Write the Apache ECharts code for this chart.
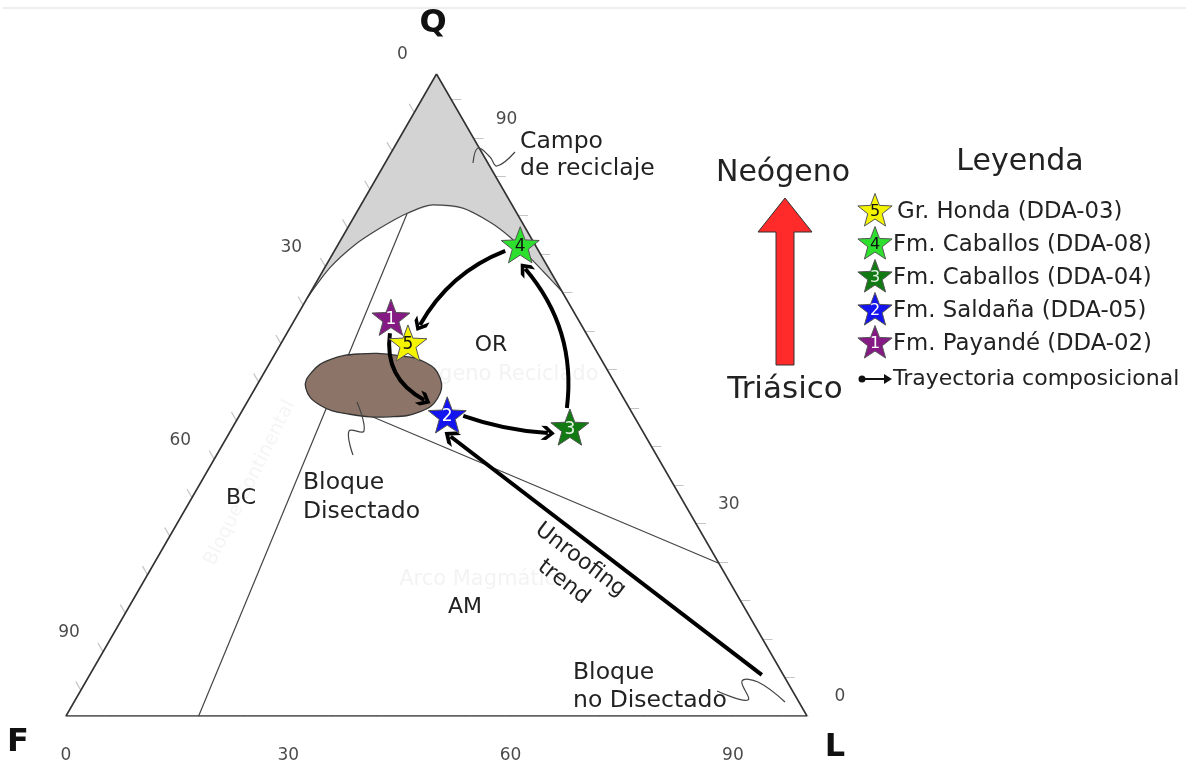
<!DOCTYPE html>
<html>
<head>
<meta charset="utf-8">
<script src="https://cdn.jsdelivr.net/npm/echarts@6/dist/echarts.min.js"></script>
<style>
html,body{margin:0;padding:0;background:#fff}
#chart{width:1186px;height:767px}
</style>
</head>
<body>
<div id="chart"></div>
<script>
// ---- Sample compositions (%), in sample-number order ----
const sampleIds = ['1', '2', '3', '4', '5'];
const sampleNames = ['Fm. Payandé (DDA-02)', 'Fm. Saldaña (DDA-05)', 'Fm. Caballos (DDA-04)', 'Fm. Caballos (DDA-08)', 'Gr. Honda (DDA-03)'];
const sampleQ = [62.1, 46.9, 45.0, 73.4, 58.1];
const sampleF = [25.1, 25.1, 9.5, 2.0, 24.8];
const sampleL = [12.8, 28.0, 45.5, 24.6, 17.1];
const sampleColors = ['#851a85', '#1414f0', '#127a12', '#2ee02e', '#f4f400'];
const sampleTextColors = ['#ffffff', '#ffffff', '#e8f5e8', '#111111', '#111111'];
const legendOrder = [4, 3, 2, 1, 0];

// ---- Compositional trajectory (sample index -> sample index) ----
const pathFrom = [0, 1, 2, 3];
const pathTo = [1, 2, 3, 4];
const pathBend = [-0.35, -0.07, -0.22, -0.18];

// ---- Unroofing trend, [Q, L] start and arrow tip ----
const unroofQ = [6.4, 44.2];
const unroofL = [90.7, 29.05];

// ---- Provenance field boundaries, given as Q and L (%) ----
const recycleQ = [65.1, 69.8, 73.4, 76.0, 78.3, 79.6, 79.1, 76.9, 74.6, 71.8, 69.0, 66.2];
const recycleL = [0.0, 0.7, 2.3, 4.4, 6.9, 9.7, 14.0, 18.8, 22.6, 26.4, 30.1, 33.8];
const cratonLineQ = [78.3, 0];
const cratonLineL = [6.9, 17.9];
const arcLineQ = [49.8, 23.8];
const arcLineL = [9.9, 76.2];
const dissectedQ = [51.1, 53.6, 55.5, 56.4, 56.2, 55.1, 52.6, 49.5, 47.4, 46.6, 47.0, 48.4];
const dissectedL = [6.8, 6.4, 7.9, 11.5, 16.3, 20.9, 24.2, 25.4, 24.1, 20.4, 14.8, 10.1];

// ---- Axis ticks and labelled values per edge ----
const tickStep = 6;
const bottomLabels = [0, 30, 60, 90];   // L
const leftLabels = [0, 30, 60, 90];     // F
const rightLabels = [0, 30, 90];        // Q

// ---- Geometry helpers ----
const SQ3 = Math.sqrt(3) / 2;
const PX = 7.41; // pixels per composition unit on the plot grid
function toXY(q, l) { return [l + q / 2, q * SQ3]; }
function nudge(p, d) { return [p[0] + d[0] / PX, p[1] - d[1] / PX]; }
function shrink(a, b, gapA, gapB) {
  const dx = b[0] - a[0], dy = b[1] - a[1], d = Math.hypot(dx, dy);
  const ux = dx / d, uy = dy / d;
  return [[a[0] + ux * gapA / PX, a[1] + uy * gapA / PX],
          [b[0] - ux * gapB / PX, b[1] - uy * gapB / PX]];
}
function starPoints(cx, cy, R, ratio) {
  const pts = [];
  for (let i = 0; i < 10; i++) {
    const r = i % 2 ? R * ratio : R;
    const a = -Math.PI / 2 + i * Math.PI / 5;
    pts.push([cx + r * Math.cos(a), cy + r * Math.sin(a)]);
  }
  return pts;
}
const STAR = 'path://M50,0 L62.34,33.01 L97.55,34.55 L69.97,56.49 L79.39,90.45 L50,71 L20.61,90.45 L30.03,56.49 L2.45,34.55 L37.66,33.01 Z';
const CHEVRON = 'path://M0,0 L10,12 L10,20 L0,8 L-10,20 L-10,12 Z';
const FONT = 'DejaVu Sans';
// where each trajectory leaves / meets the star outline (screen px from star centre)
const pathStartNudge = [[-1, 16], [16, 1], [-3, -19], [-15, 6]];
const pathEndNudge = [[-23, -15], [-22, 6], [5, 24], [12, -18]];

function polygonSeries(qs, ls, style, z) {
  return {
    type: 'custom', coordinateSystem: 'cartesian2d', silent: true, clip: false, z: z,
    data: [[0, 0]],
    renderItem(params, api) {
      const pts = qs.map((q, i) => api.coord(toXY(q, ls[i])));
      return { type: 'polygon', shape: { points: pts, smooth: style.smooth || 0 }, style: style.s };
    }
  };
}
function lineSeries(qs, ls, width, color, smooth, z) {
  return {
    type: 'line', silent: true, symbol: 'none', smooth: smooth, z: z,
    data: qs.map((q, i) => toXY(q, ls[i])),
    lineStyle: { color: color, width: width }
  };
}

// ---- Axis ticks and their labels ----
const tickLen = 10 / PX;
const ticks = [];
for (let v = 0; v < 100; v += tickStep) {
  const b = toXY(0, v);              // bottom edge: L
  ticks.push({ coords: [b, [b[0] - 0.5 * tickLen, b[1] - SQ3 * tickLen]] });
  const lft = toXY(100 - v, 0);      // left edge: F
  ticks.push({ coords: [lft, [lft[0] - 0.5 * tickLen, lft[1] + SQ3 * tickLen]] });
  const r = toXY(v, 100 - v);        // right edge: Q
  ticks.push({ coords: [r, [r[0] + tickLen, r[1]]] });
}
const tickLabelData = [];
bottomLabels.forEach((v) => tickLabelData.push({ name: String(v), value: toXY(0, v), label: { offset: [0, 40] } }));
leftLabels.forEach((v) => tickLabelData.push({ name: String(v), value: toXY(100 - v, 0), label: { offset: [-34, -19] } }));
rightLabels.forEach((v) => tickLabelData.push({ name: String(v), value: toXY(v, 100 - v), label: { offset: [33, -19] } }));

// ---- Trajectory arrows ----
const pathData = pathFrom.map((f, i) => {
  const t = pathTo[i];
  const a = nudge(toXY(sampleQ[f], sampleL[f]), pathStartNudge[i]);
  const b = nudge(toXY(sampleQ[t], sampleL[t]), pathEndNudge[i]);
  return { coords: [a, b], lineStyle: { curveness: pathBend[i] } };
});
const uStart = toXY(unroofQ[0], unroofL[0]);
const uTip = toXY(unroofQ[1], unroofL[1]);
const unroofData = [{ coords: shrink(uStart, uTip, 0, 7) }];

// ---- Sample stars ----
const starData = sampleIds.map((id, i) => ({
  name: id,
  value: toXY(sampleQ[i], sampleL[i]),
  itemStyle: { color: sampleColors[i] },
  label: { color: sampleTextColors[i] }
}));

// ---- Legend and annotations ----
const graphic = [];
graphic.push({ type: 'rect', shape: { x: 3, y: 7, width: 1183, height: 2 }, style: { fill: '#eeeeee' }, silent: true });
function txt(text, x, y, size, opts) {
  opts = opts || {};
  return {
    type: 'text', x: x, y: y, rotation: opts.rotation || 0, silent: true, z: opts.z || 50,
    style: {
      text: text, fontSize: size, fontFamily: FONT, fontWeight: opts.bold ? 'bold' : 'normal',
      fill: opts.color || '#222', textAlign: opts.align || 'left', align: opts.align || 'left',
      textVerticalAlign: 'middle', verticalAlign: 'middle', lineHeight: opts.lh || size * 1.3
    }
  };
}
// faint field names behind the plot
graphic.push(txt('Orógeno Reciclado', 500, 375, 21, { color: '#f3f3f3', align: 'center', z: 1 }));
graphic.push(txt('Arco Magmático', 484, 580, 21, { color: '#f3f3f3', align: 'center', z: 1 }));
graphic.push(txt('Bloque Continental', 250, 483, 19, { color: '#f5f5f5', align: 'center', rotation: 1.11, z: 1 }));
// vertex names
graphic.push(txt('Q', 433, 24, 32, { bold: true, align: 'center', color: '#111' }));
graphic.push(txt('F', 18, 743, 32, { bold: true, align: 'center', color: '#111' }));
graphic.push(txt('L', 835, 748, 32, { bold: true, align: 'center', color: '#111' }));
// field labels
graphic.push(txt('OR', 491, 345, 22, { align: 'center' }));
graphic.push(txt('AM', 465, 607, 22, { align: 'center' }));
graphic.push(txt('BC', 241, 498, 22, { align: 'center' }));
graphic.push(txt('Bloque\nDisectado', 303, 497, 23.5, { lh: 29 }));
graphic.push(txt('Campo\nde reciclaje', 520, 155, 23.5, { lh: 27 }));
graphic.push(txt('Bloque\nno Disectado', 573, 687, 23.5, { lh: 28 }));
graphic.push(txt('Unroofing\ntrend', 572, 571, 22, { align: 'center', rotation: -0.65, lh: 28 }));
// leader squiggles
const squiggle = (pts) => ({ type: 'polyline', silent: true, z: 40, shape: { points: pts, smooth: 0.4 }, style: { stroke: '#444', lineWidth: 1.2, fill: null } });
graphic.push(squiggle([[473, 163], [478, 148], [490, 157], [497, 166], [515, 152]]));
graphic.push(squiggle([[357, 402], [364, 431], [349, 431], [353, 455]]));
graphic.push(squiggle([[717, 691], [748, 700], [742, 681], [758, 682], [785, 702]]));
// age arrow
graphic.push({
  type: 'polygon', silent: true, z: 40,
  shape: { points: [[776, 365], [776, 232], [758, 232], [785, 198], [812, 232], [794, 232], [794, 365]] },
  style: { fill: '#ff2b2b', stroke: '#333', lineWidth: 1 }
});
graphic.push(txt('Neógeno', 783, 173, 30, { align: 'center' }));
graphic.push(txt('Triásico', 785, 390, 31, { align: 'center' }));
graphic.push(txt('Leyenda', 1020, 162, 30, { align: 'center' }));
// legend rows
const rowY = [210, 243, 276, 309, 342];
legendOrder.forEach((si, r) => {
  graphic.push({ type: 'polygon', silent: true, z: 60, shape: { points: starPoints(875, rowY[r] + 1.5, 18, 0.42) },
    style: { fill: sampleColors[si], stroke: '#555', lineWidth: 1 } });
  graphic.push(txt(sampleIds[si], 875, rowY[r] + 2, 16, { align: 'center', color: sampleTextColors[si], z: 61 }));
  graphic.push(txt(sampleNames[si], si === 4 ? 897 : 893, rowY[r] + 2, 22.8, { z: 61 }));
});
graphic.push({ type: 'circle', silent: true, z: 60, shape: { cx: 862, cy: 379, r: 3.5 }, style: { fill: '#111' } });
graphic.push({ type: 'line', silent: true, z: 60, shape: { x1: 862, y1: 379, x2: 889, y2: 379 }, style: { stroke: '#111', lineWidth: 2 } });
graphic.push({ type: 'polygon', silent: true, z: 60, shape: { points: [[892, 379], [884, 374], [884, 384]] }, style: { fill: '#111' } });
graphic.push(txt('Trayectoria composicional', 893, 379, 22, { z: 61 }));

const option = {
  animation: false,
  backgroundColor: '#ffffff',
  grid: { left: 66, top: 74, width: 741, height: 642 },
  xAxis: { type: 'value', min: 0, max: 100, show: false },
  yAxis: { type: 'value', min: 0, max: 100 * SQ3, show: false },
  series: [
    polygonSeries(recycleQ.concat([100]), recycleL.concat([0]), { s: { fill: '#d3d3d3' } }, 1),
    lineSeries(recycleQ, recycleL, 1.2, '#444', 0.3, 3),
    lineSeries(cratonLineQ, cratonLineL, 1.2, '#444', false, 3),
    lineSeries(arcLineQ, arcLineL, 1.2, '#444', false, 3),
    lineSeries([100, 0, 0, 100], [0, 0, 100, 0], 1.6, '#333', false, 4),
    {
      type: 'lines', coordinateSystem: 'cartesian2d', silent: true, z: 2,
      lineStyle: { color: '#c4c4c4', width: 1.2, opacity: 1 }, data: ticks
    },
    {
      type: 'scatter', silent: true, symbolSize: 0, z: 5, data: tickLabelData,
      label: { show: true, position: 'inside', formatter: (p) => p.name, fontSize: 17, fontFamily: FONT, color: '#1a1a1a' }
    },
    polygonSeries(dissectedQ, dissectedL, { smooth: 0.45, s: { fill: '#8c7568', stroke: '#333', lineWidth: 1.3 } }, 6),
    {
      type: 'lines', coordinateSystem: 'cartesian2d', silent: true, z: 8,
      symbol: ['none', CHEVRON], symbolSize: 14,
      lineStyle: { color: '#000', width: 4, curveness: 0, opacity: 1 }, data: pathData
    },
    {
      type: 'lines', coordinateSystem: 'cartesian2d', silent: true, z: 8,
      symbol: ['none', CHEVRON], symbolSize: 15,
      lineStyle: { color: '#000', width: 4, curveness: 0, opacity: 1 }, data: unroofData
    },
    {
      type: 'scatter', silent: true, z: 10, symbol: STAR, symbolSize: 38, symbolKeepAspect: true,
      itemStyle: { borderColor: '#555', borderWidth: 1, opacity: 1 },
      label: { show: true, position: 'inside', offset: [0, 2], formatter: (p) => p.name, fontSize: 17, fontFamily: FONT },
      data: starData
    }
  ],
  graphic: graphic
};

const chart = echarts.init(document.getElementById('chart'), null, { renderer: 'canvas' });
chart.setOption(option);
</script>
</body>
</html>
